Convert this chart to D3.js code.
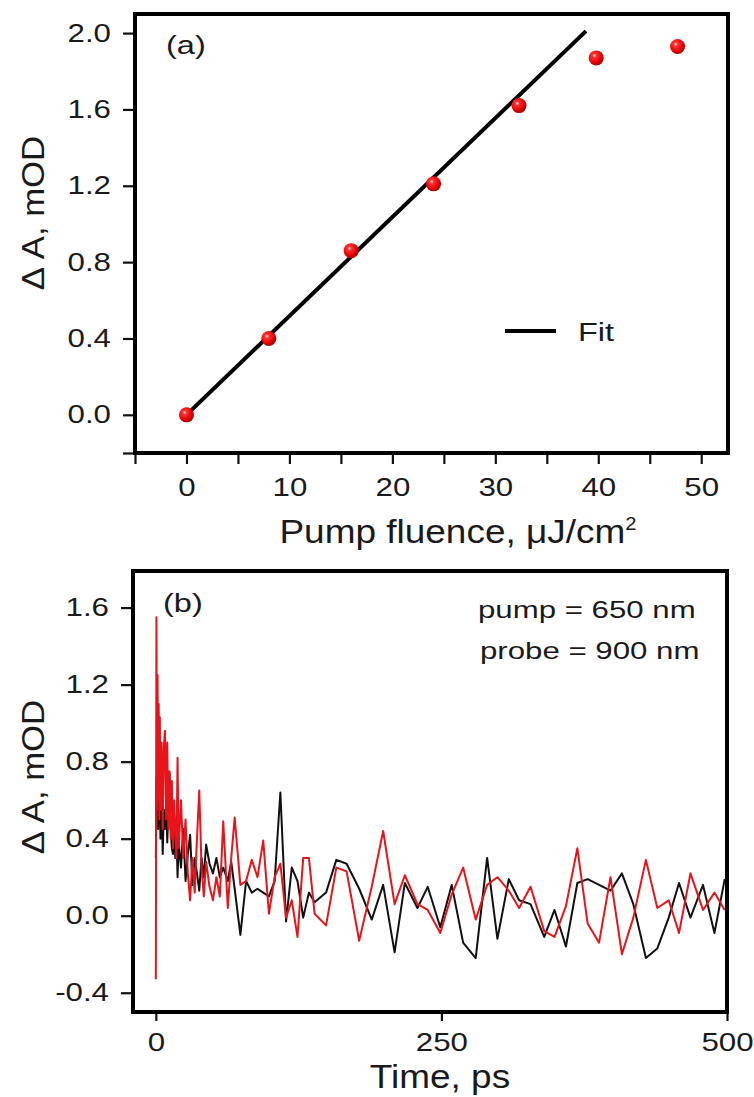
<!DOCTYPE html>
<html>
<head>
<meta charset="utf-8">
<script src="https://cdn.jsdelivr.net/npm/d3@7"></script>
<style>
  body { margin: 0; background: #fff; }
  text { font-family: "Liberation Sans", Arial, sans-serif; fill: #1a1a1a; }
</style>
</head>
<body>
<svg id="chart" width="754" height="1097"></svg>
<script>
// ---- panel (a): signal vs pump fluence
var fluence = [0, 8, 16, 24, 32.3, 39.8, 47.7];
var amplitude = [0, 0.40, 0.86, 1.21, 1.62, 1.87, 1.93];
var fitFluence = [0, 38.8];
var fitAmplitude = [0, 2.01];
var fluenceTicks = [-5, 0, 5, 10, 15, 20, 25, 30, 35, 40, 45, 50];
var fluenceLabels = [0, 10, 20, 30, 40, 50];
var ampTicksA = [-0.2, 0, 0.4, 0.8, 1.2, 1.6, 2.0];

// ---- panel (b): kinetics, pump 650 nm / probe 900 nm
var time = [0, 0.5, 1, 1.5, 2, 2.5, 3, 3.5, 4,
  5, 6, 7, 8, 9, 10, 11, 12, 13, 14, 15, 16, 17, 18, 19, 20,
  22, 24, 26, 28, 30, 32, 34, 36, 38, 40, 42, 44,
  47, 50, 53, 56, 59, 63, 66, 69,
  74, 79, 84, 89, 94, 99, 104, 109, 114, 119, 124, 129, 134,
  139, 149, 158, 167, 178, 189, 199, 209, 218, 229, 238, 249, 259, 269,
  280, 290, 299, 309, 318, 328, 340, 349, 359, 369, 378, 388, 398,
  408, 418, 429, 439, 449, 458, 468, 479, 489, 498];
var blackTrace = [0.30, 0.72, 0.55, 0.68, 0.45, 0.66, 0.50, 0.62, 0.40,
  0.62, 0.32, 0.55, 0.45, 0.60, 0.38, 0.55, 0.74, 0.45, 0.35, 0.32, 0.50, 0.30, 0.45, 0.20, 0.38,
  0.25, 0.45, 0.18, 0.32, 0.42, 0.16, 0.30, 0.22, 0.13, 0.30, 0.20, 0.37,
  0.27, 0.22, 0.30, 0.20, 0.25, 0.18, 0.28, 0.14,
  -0.10, 0.18, 0.12, 0.14, 0.12, 0.10, 0.18, 0.64, -0.03, 0.25, 0.18, -0.01, 0.12,
  0.07, 0.12, 0.29, 0.27, 0.14, -0.02, 0.16, -0.19, 0.17, 0.04, 0.15, -0.06, 0.16, -0.14,
  -0.22, 0.30, -0.12, 0.19, 0.08, 0.06, -0.11, 0.03, -0.16, 0.17, 0.19, 0.16, 0.13,
  0.22, 0.06, -0.22, -0.17, -0.01, 0.17, -0.01, 0.16, -0.09, 0.19];
var redTrace = [-0.33, 1.55, 0.55, 1.25, 0.60, 1.10, 0.50, 1.03, 0.55,
  0.90, 0.45, 0.88, 0.96, 0.50, 0.90, 0.45, 0.75, 0.40, 0.70, 0.35, 0.60, 0.45, 0.30, 0.82, 0.35,
  0.60, 0.30, 0.50, 0.22, 0.08, 0.30, 0.12, 0.40, 0.65, 0.25, 0.10, 0.28,
  0.15, 0.08, 0.20, 0.10, 0.49, 0.04, 0.30, 0.51,
  0.16, 0.18, 0.29, 0.20, 0.39, 0.01, 0.20, 0.27, -0.01, 0.08, -0.11, 0.30, 0.30,
  0.01, -0.05, 0.25, 0.23, -0.13, 0.15, 0.44, 0.06, 0.21, 0.06, 0.03, -0.09, 0.11, 0.25,
  -0.02, 0.16, 0.20, 0.13, 0.04, 0.15, -0.08, -0.11, 0.05, 0.35, -0.04, -0.14, 0.20,
  -0.20, -0.01, 0.29, 0.04, 0.08, -0.09, 0.22, 0.03, 0.12, 0.03];
var timeTicks = [0, 250, 500];
var ampTicksB = [-0.4, 0, 0.4, 0.8, 1.2, 1.6];

var svg = d3.select("#chart");

// glyphs in the figure are wider than the plain font
function stretch(sel, k) {
  sel.each(function() {
    var w = this.getComputedTextLength();
    if (w > 0) d3.select(this).attr("textLength", w * k).attr("lengthAdjust", "spacingAndGlyphs");
  });
}

function fmt(d) { return d.toFixed(1); }

// red sphere markers
var grad = svg.append("defs").append("radialGradient")
    .attr("id", "ball").attr("cx", "38%").attr("cy", "35%").attr("r", "65%");
grad.append("stop").attr("offset", "0%").attr("stop-color", "#ffe0e0");
grad.append("stop").attr("offset", "22%").attr("stop-color", "#ff3030");
grad.append("stop").attr("offset", "75%").attr("stop-color", "#e00000");
grad.append("stop").attr("offset", "100%").attr("stop-color", "#a80000");

function styleAxis(g) {
  g.select(".domain").remove();
  g.selectAll(".tick line").attr("stroke", "#111").attr("stroke-width", 2.2);
  g.selectAll(".tick text").style("font-size", "25px").attr("fill", "#1a1a1a");
}

// ================= panel (a)
var xa = d3.scaleLinear().domain([-5, 52.6]).range([135, 728]);
var ya = d3.scaleLinear().domain([-0.2, 2.1]).range([453, 14]);

var ga = svg.append("g");

ga.append("g")
    .attr("transform", "translate(135,0)")
    .call(d3.axisLeft(ya).tickValues(ampTicksA).tickSize(12).tickPadding(12)
      .tickFormat(function(d) { return d < -0.1 ? "" : fmt(d); }))
    .call(styleAxis);

ga.append("g")
    .attr("transform", "translate(0,453)")
    .call(d3.axisBottom(xa).tickValues(fluenceTicks).tickSize(11).tickPadding(14)
      .tickFormat(function(d) { return fluenceLabels.indexOf(d) >= 0 ? d : ""; }))
    .call(styleAxis);

ga.append("path")
    .datum(d3.zip(fitFluence, fitAmplitude))
    .attr("fill", "none")
    .attr("stroke", "#000")
    .attr("stroke-width", 4)
    .attr("d", d3.line().x(function(d) { return xa(d[0]); }).y(function(d) { return ya(d[1]); }));

ga.selectAll(".pt")
    .data(d3.zip(fluence, amplitude))
  .enter().append("circle")
    .attr("class", "pt")
    .attr("cx", function(d) { return xa(d[0]); })
    .attr("cy", function(d) { return ya(d[1]); })
    .attr("r", 7.5)
    .attr("fill", "url(#ball)");

ga.append("rect")
    .attr("x", 135).attr("y", 14).attr("width", 593).attr("height", 439)
    .attr("fill", "none").attr("stroke", "#000").attr("stroke-width", 4);

// legend
ga.append("line")
    .attr("x1", 505).attr("x2", 556).attr("y1", 331).attr("y2", 331)
    .attr("stroke", "#000").attr("stroke-width", 4);
ga.append("text").attr("class", "wide").attr("x", 578).attr("y", 341)
    .style("font-size", "25px").text("Fit");

ga.append("text").attr("class", "wide").attr("x", 166).attr("y", 54)
    .style("font-size", "25px").text("(a)");

ga.append("text").attr("class", "title")
    .attr("x", 458).attr("y", 543)
    .attr("text-anchor", "middle")
    .style("font-size", "33px")
    .text("Pump fluence, \u03bcJ/cm")
  .append("tspan").attr("dy", -13).style("font-size", "18px").text("2");

ga.append("text").attr("class", "title")
    .attr("transform", "translate(44,213)rotate(-90)")
    .attr("text-anchor", "middle")
    .style("font-size", "31px")
    .text("\u0394 A, mOD");

// ================= panel (b)
var xb = d3.scaleLinear().domain([-20, 500]).range([133, 727]);
var yb = d3.scaleLinear().domain([-0.5, 1.79]).range([1012, 571]);

var gb = svg.append("g");

gb.append("g")
    .attr("transform", "translate(133,0)")
    .call(d3.axisLeft(yb).tickValues(ampTicksB).tickSize(12).tickPadding(12).tickFormat(fmt))
    .call(styleAxis);

gb.append("g")
    .attr("transform", "translate(0,1012)")
    .call(d3.axisBottom(xb).tickValues(timeTicks).tickSize(9).tickPadding(12))
    .call(styleAxis);

var line = d3.line()
    .x(function(d) { return xb(d[0]); })
    .y(function(d) { return yb(d[1]); });

gb.append("path")
    .datum(d3.zip(time, blackTrace))
    .attr("fill", "none").attr("stroke", "#111").attr("stroke-width", 2)
    .attr("stroke-linejoin", "round")
    .attr("d", line);

gb.append("path")
    .datum(d3.zip(time, redTrace))
    .attr("fill", "none").attr("stroke", "#e8141c").attr("stroke-width", 2)
    .attr("stroke-linejoin", "round")
    .attr("d", line);

gb.append("rect")
    .attr("x", 133).attr("y", 571).attr("width", 594).attr("height", 441)
    .attr("fill", "none").attr("stroke", "#000").attr("stroke-width", 4);

gb.append("text").attr("class", "wide").attr("x", 163).attr("y", 612)
    .style("font-size", "25px").text("(b)");
gb.append("text").attr("class", "wide").attr("x", 478).attr("y", 618)
    .style("font-size", "24px").text("pump = 650 nm");
gb.append("text").attr("class", "wide").attr("x", 480).attr("y", 659)
    .style("font-size", "24px").text("probe = 900 nm");

gb.append("text").attr("class", "title")
    .attr("x", 440).attr("y", 1088)
    .attr("text-anchor", "middle")
    .style("font-size", "33px")
    .text("Time, ps");

gb.append("text").attr("class", "title")
    .attr("transform", "translate(44,777)rotate(-90)")
    .attr("text-anchor", "middle")
    .style("font-size", "31px")
    .text("\u0394 A, mOD");

stretch(svg.selectAll(".tick text"), 1.25);
stretch(svg.selectAll("text.wide"), 1.3);
stretch(svg.selectAll("text.title"), 1.12);
</script>
</body>
</html>
